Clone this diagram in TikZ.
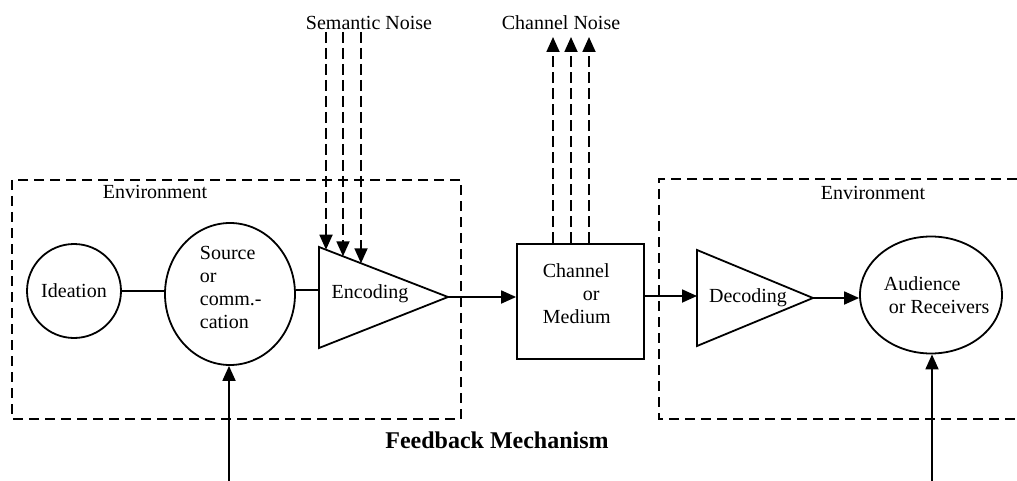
\documentclass[tikz,border=0pt]{standalone}
\usepackage{fontspec}
\setmainfont{Liberation Serif}
\usetikzlibrary{arrows.meta,shapes.geometric}
\begin{document}
\begin{tikzpicture}[x=1pt,y=-1pt, line width=1.8pt,
 lbl/.style={font=\fontsize{20}{23}\selectfont, inner sep=0pt},
 envbox/.style={dash pattern=on 10pt off 6pt, line width=1.8pt},
 noise/.style={dash pattern=on 11pt off 5pt, line width=1.8pt},
 arr/.style={-{Triangle[length=15pt,width=13pt]}},
 ell/.style={draw, ellipse, inner sep=0pt, line width=1.8pt}]
\useasboundingbox (0,0) rectangle (1017,481);

% environment boxes
\draw[envbox] (12,180) rectangle (461,419);
\draw[envbox] (1017,179) -- (659,179) -- (659,419) -- (1017,419);
\node[lbl] (envL) at (155,192) {Environment};
\node[lbl] (envR) at (873,193) {Environment};

% nodes
\node[ell, minimum width=94pt, minimum height=94pt] (idea) at (74,291) {};
\node[lbl] (ideaT) at (74,291) {Ideation};
\node[ell, minimum width=130pt, minimum height=142pt] (src) at (230,294) {};
\node[lbl, align=left, anchor=west] (srcT) at (199,287) {Source\\or\\comm.-\\cation};

\coordinate (encA) at (319,247);
\coordinate (enctip) at (448,297);
\coordinate (encC) at (319,348);
\coordinate (encin) at (319,290);
\draw (encA) -- (enctip) -- (encC) -- cycle;
\node[lbl] (encT) at (370,294) {Encoding};

\node[draw, minimum width=127pt, minimum height=115pt, inner sep=0pt] (chan) at (580.5,301.5) {};
\node[lbl, align=left, anchor=west] (chanT) at (542,294) {Channel\\\hspace*{40pt}or\\Medium};

\coordinate (decA) at (697,250);
\coordinate (dectip) at (813,298);
\coordinate (decC) at (697,346);
\coordinate (decin) at (697,296);
\draw (decA) -- (dectip) -- (decC) -- cycle;
\node[lbl] (decT) at (748,298) {Decoding};

\node[ell, minimum width=142pt, minimum height=117pt] (aud) at (931,295) {};
\node[lbl, align=left, anchor=west] (audT) at (883,295) {Audience\\\hspace*{5pt}or Receivers};

% connectors
\draw (idea.east) -- (src.west |- idea.east);
\draw (src.east |- encin) -- (encin);
\draw[arr] (enctip) -- (chan.west |- enctip);
\draw[arr] (chan.east |- decin) -- (decin);
\draw[arr] (dectip) -- (aud.west |- dectip);

% semantic noise
\node[lbl] (sem) at (369,23) {Semantic Noise};
\coordinate (s1) at (326,32); \coordinate (e1) at (326,249.7);
\coordinate (s2) at (343,32); \coordinate (e2) at (343,256.3);
\coordinate (s3) at (361,32); \coordinate (e3) at (361,263.3);
\draw[noise,arr] (s1) -- (e1);
\draw[noise,arr] (s2) -- (e2);
\draw[noise,arr] (s3) -- (e3);

% channel noise
\node[lbl] (chn) at (561,23) {Channel Noise};
\coordinate (c1) at (553,37); \coordinate (c2) at (571,37); \coordinate (c3) at (589,37);
\draw[noise,arr] (chan.north -| c1) -- (c1);
\draw[noise,arr] (chan.north -| c2) -- (c2);
\draw[noise,arr] (chan.north -| c3) -- (c3);

% feedback
\coordinate (fb1) at (229,481);
\coordinate (fb2) at (932,481);
\draw[arr] (fb1) -- (fb1 |- src.south);
\draw[arr] (fb2) -- (fb2 |- aud.south);
\node[font=\bfseries\fontsize{24}{26}\selectfont, inner sep=0pt] (fb) at (497,440) {Feedback Mechanism};
\end{tikzpicture}
\end{document}
